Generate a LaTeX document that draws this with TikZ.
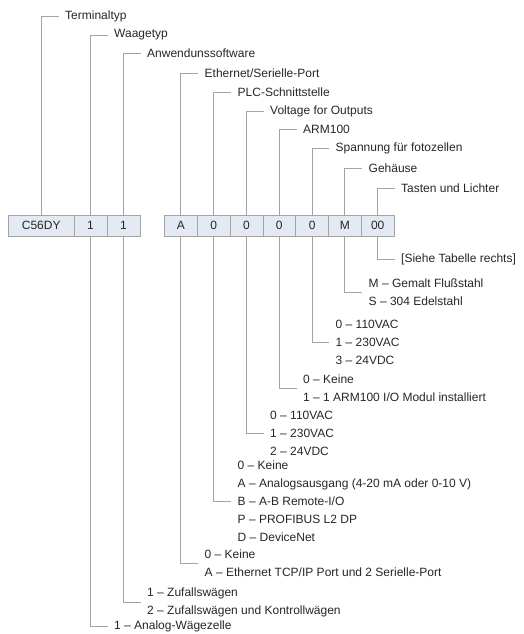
\documentclass[tikz,border=0pt]{standalone}
\usepackage{fontspec}
\setmainfont{Liberation Sans}
\definecolor{linegray}{HTML}{A4A4A4}
\definecolor{txtgray}{HTML}{262626}
\definecolor{cellblue}{HTML}{E3EAF3}
\begin{document}
\begin{tikzpicture}[x=1pt,y=-1pt,
  ln/.style={draw=linegray, line width=0.9pt},
  lbl/.style={anchor=west, inner xsep=6.5pt, inner ysep=0pt, text=txtgray, font=\fontsize{12}{18}\selectfont, align=left},
  cell/.style={draw=linegray, line width=0.7pt, fill=cellblue, minimum height=21pt, inner sep=0pt, text=txtgray, font=\fontsize{12}{14}\selectfont}]
\useasboundingbox (0,0) rectangle (523,634);
% code boxes
\node[cell, minimum width=65.5pt] (b0) at (41.25,225.5) {C56DY};
\node[cell, minimum width=33pt] (b1) at (90.5,225.5) {1};
\node[cell, minimum width=33pt] (b2) at (123.5,225.5) {1};
\node[cell, minimum width=32.8pt] (b3) at (180.9,225.5) {A};
\node[cell, minimum width=32.8pt] (b4) at (213.7,225.5) {0};
\node[cell, minimum width=32.8pt] (b5) at (246.5,225.5) {0};
\node[cell, minimum width=32.8pt] (b6) at (279.3,225.5) {0};
\node[cell, minimum width=32.8pt] (b7) at (312.1,225.5) {0};
\node[cell, minimum width=32.8pt] (b8) at (344.9,225.5) {M};
\node[cell, minimum width=32.8pt] (b9) at (377.7,225.5) {00};
% top labels
\node[lbl] (t0) at (58.5,16) {Terminaltyp};
\node[lbl] (t1) at (107.5,35) {Waagetyp};
\node[lbl] (t2) at (140.5,53.5) {Anwendunssoftware};
\node[lbl] (t3) at (198,73) {Ethernet/Serielle-Port};
\node[lbl] (t4) at (231,92) {PLC-Schnittstelle};
\node[lbl] (t5) at (263.5,111) {Voltage for Outputs};
\node[lbl] (t6) at (296.5,129.5) {ARM100};
\node[lbl] (t7) at (329,148.5) {Spannung für fotozellen};
\node[lbl] (t8) at (362,168) {Gehäuse};
\node[lbl] (t9) at (394.5,188) {Tasten und Lichter};
\foreach \i in {0,...,9} {\draw[ln] (b\i.north) |- (t\i.west);}
% bottom options
\node[lbl] (o9) at (394.5,259) {[Siehe Tabelle rechts]};
\node[lbl] (o8) at (362,292) {M – Gemalt Flußstahl\\S – 304 Edelstahl};
\node[lbl] (o7) at (329,342) {0 – 110VAC\\1 – 230VAC\\3 – 24VDC};
\node[lbl] (o6) at (296.5,388) {0 – Keine\\1 – 1 ARM100 I/O Modul installiert};
\node[lbl] (o5) at (263.5,433.5) {0 – 110VAC\\1 – 230VAC\\2 – 24VDC};
\node[lbl] (o4) at (231,501) {0 – Keine\\A – Analogsausgang (4-20 mA oder 0-10 V)\\B – A-B Remote-I/O\\P – PROFIBUS L2 DP\\D – DeviceNet};
\node[lbl] (o3) at (198,563) {0 – Keine\\A – Ethernet TCP/IP Port und 2 Serielle-Port};
\node[lbl] (o2) at (140.5,602) {1 – Zufallswägen\\2 – Zufallswägen und Kontrollwägen};
\node[lbl] (o1) at (107.5,626.5) {1 – Analog-Wägezelle};
\foreach \i in {1,...,9} {\draw[ln] (b\i.south) |- (o\i.west);}
\end{tikzpicture}
\end{document}
